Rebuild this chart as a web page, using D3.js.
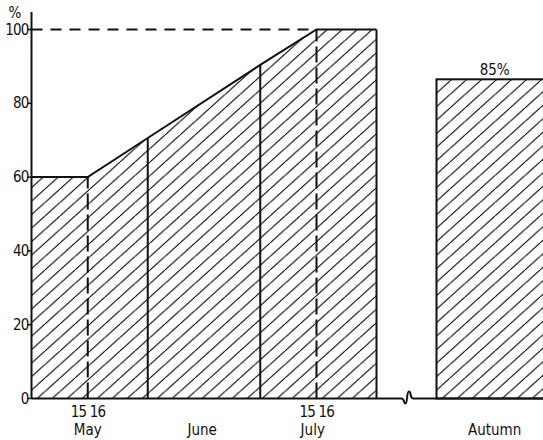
<!DOCTYPE html>
<html>
<head>
<meta charset="utf-8">
<script src="https://cdn.jsdelivr.net/npm/d3@7"></script>
<style>
  body { margin: 0; background: #fff; }
  text { font-family: "DejaVu Sans Condensed", "Liberation Sans Narrow", sans-serif; fill: #111; }
</style>
</head>
<body>
<div id="chart"></div>
<script>
// data: days counted from 1 May, value in %
var profileDays = [0, 15, 31, 61, 76, 92];
var profileValues = [60, 60, 70.6, 90.4, 100, 100];
var dividerDays = [15, 31, 61, 76];
var dividerStyles = ["dashed", "solid", "solid", "dashed"];
var autumnSpan = [108, 139];
var autumnValue = 86.5;
var autumnLabel = "85%";
var yTicks = [0, 20, 40, 60, 80, 100];
var monthLabels = ["May", "June", "July", "Autumn"];
var monthLabelDays = [15, 45.5, 75, 123.5];
var dayPairDays = [15, 76];
var dayPairLabels = [["15", "16"], ["15", "16"]];
var breakDay = 100;

var width = 543, height = 440;
var fs = 15;

var svg = d3.select("#chart")
    .append("svg")
    .attr("width", width)
    .attr("height", height);

var x = d3.scaleLinear()
    .domain([0, 100])
    .range([31.5, 406.5]);

var y = d3.scaleLinear()
    .domain([0, 100])
    .range([398.5, 29.5]);

// hatching
var W = 15, H = 13.5;
svg.append("defs")
    .append("pattern")
    .attr("id", "hatch")
    .attr("patternUnits", "userSpaceOnUse")
    .attr("width", W)
    .attr("height", H)
    .append("path")
    .attr("d", "M" + (-W) + "," + H + "L0,0M0," + H + "L" + W + ",0M" + W + "," + H + "L" + (2 * W) + ",0")
    .attr("stroke", "#111")
    .attr("stroke-width", 1.2);

var profile = profileDays.map(function(d, i) { return {day: d, value: profileValues[i]}; });

// summer area
svg.append("path")
    .datum(profile)
    .attr("fill", "url(#hatch)")
    .attr("d", d3.area()
        .x(function(d) { return x(d.day); })
        .y0(y(0))
        .y1(function(d) { return y(d.value); }));

// 100% reference dashed line
svg.append("line")
    .attr("x1", x(0)).attr("x2", x(76))
    .attr("y1", y(100)).attr("y2", y(100))
    .attr("stroke", "#111")
    .attr("stroke-width", 1.8)
    .attr("stroke-dasharray", "11,8");

// top outline
svg.append("path")
    .datum(profile)
    .attr("fill", "none")
    .attr("stroke", "#111")
    .attr("stroke-width", 2)
    .attr("d", d3.line()
        .x(function(d) { return x(d.day); })
        .y(function(d) { return y(d.value); }));

// right edge of July
svg.append("line")
    .attr("x1", x(92)).attr("x2", x(92))
    .attr("y1", y(0)).attr("y2", y(100))
    .attr("stroke", "#111")
    .attr("stroke-width", 2);

// dividers
svg.selectAll(".divider")
    .data(dividerDays)
    .enter()
    .append("line")
    .attr("class", "divider")
    .attr("x1", function(d) { return x(d); })
    .attr("x2", function(d) { return x(d); })
    .attr("y1", y(0))
    .attr("y2", function(d) { return y(profileValues[profileDays.indexOf(d)]); })
    .attr("stroke", "#111")
    .attr("stroke-width", 2)
    .attr("stroke-dasharray", function(d, i) { return dividerStyles[i] == "dashed" ? "16,5" : null; });

// autumn bar
svg.append("rect")
    .attr("x", x(autumnSpan[0]))
    .attr("y", y(autumnValue))
    .attr("width", x(autumnSpan[1]) - x(autumnSpan[0]))
    .attr("height", y(0) - y(autumnValue))
    .attr("fill", "url(#hatch)")
    .attr("stroke", "#111")
    .attr("stroke-width", 2);

svg.append("text")
    .attr("x", x((autumnSpan[0] + autumnSpan[1]) / 2))
    .attr("y", y(autumnValue) - 4)
    .attr("text-anchor", "middle")
    .attr("font-size", fs)
    .text(autumnLabel);

// baseline with break mark
var bx = x(breakDay), by = y(0);
svg.append("path")
    .attr("fill", "none")
    .attr("stroke", "#111")
    .attr("stroke-width", 2)
    .attr("d", "M" + x(0) + "," + by + "L" + (bx - 5) + "," + by
        + "C" + (bx - 2) + "," + by + " " + (bx - 3) + "," + (by + 5) + " " + (bx - 1) + "," + (by + 5)
        + "C" + (bx + 1) + "," + (by + 5) + " " + (bx) + "," + (by - 7) + " " + (bx + 2.5) + "," + (by - 7)
        + "C" + (bx + 5) + "," + (by - 7) + " " + (bx + 3) + "," + by + " " + (bx + 7) + "," + by
        + "L" + width + "," + by);

// y axis
svg.append("line")
    .attr("x1", x(0)).attr("x2", x(0))
    .attr("y1", y(0)).attr("y2", 12)
    .attr("stroke", "#111")
    .attr("stroke-width", 2);

svg.selectAll(".ytick")
    .data(yTicks)
    .enter()
    .append("line")
    .attr("class", "ytick")
    .attr("x1", x(0) - 4).attr("x2", x(0))
    .attr("y1", function(d) { return y(d); })
    .attr("y2", function(d) { return y(d); })
    .attr("stroke", "#111")
    .attr("stroke-width", 1.5);

svg.selectAll(".ylabel")
    .data(yTicks)
    .enter()
    .append("text")
    .attr("class", "ylabel")
    .attr("x", x(0) - 3)
    .attr("y", function(d) { return y(d) + 5; })
    .attr("text-anchor", "end")
    .attr("font-size", fs)
    .attr("letter-spacing", -0.8)
    .text(function(d) { return d; });

svg.append("text")
    .attr("x", 15)
    .attr("y", 18)
    .attr("text-anchor", "middle")
    .attr("font-size", fs)
    .text("%");

// x labels
dayPairDays.forEach(function(d, i) {
    svg.append("text")
        .attr("x", x(d) - 1.5)
        .attr("y", 417)
        .attr("text-anchor", "end")
        .attr("font-size", fs)
        .attr("letter-spacing", -0.8)
        .text(dayPairLabels[i][0]);
    svg.append("text")
        .attr("x", x(d) + 2)
        .attr("y", 417)
        .attr("text-anchor", "start")
        .attr("font-size", fs)
        .attr("letter-spacing", -0.8)
        .text(dayPairLabels[i][1]);
});

svg.selectAll(".month")
    .data(monthLabels)
    .enter()
    .append("text")
    .attr("class", "month")
    .attr("x", function(d, i) { return x(monthLabelDays[i]); })
    .attr("y", 435)
    .attr("text-anchor", "middle")
    .attr("font-size", fs)
    .text(function(d) { return d; });
</script>
</body>
</html>
